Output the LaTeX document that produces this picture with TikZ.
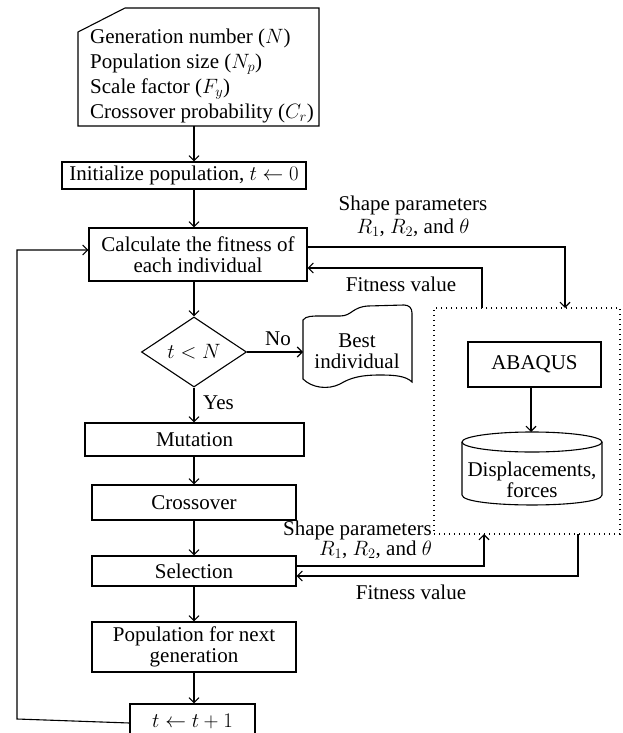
\documentclass[tikz,border=0pt]{standalone}
\usepackage{fontspec}
\setmainfont{Liberation Serif}
\usetikzlibrary{arrows.meta,shapes.geometric}
\begin{document}
\begin{tikzpicture}[x=1pt,y=-1pt,
  every node/.style={font=\fontsize{21}{21.5}\selectfont, inner sep=0pt},
  lw/.style={line width=1.1pt},
  box/.style={draw, lw, align=center},
  arr/.style={lw, -{Straight Barb[length=5pt,width=10pt]}},
  dotbox/.style={draw, line width=1.2pt, dash pattern=on 1.2pt off 3.8pt}]
\useasboundingbox (0,0) rectangle (622,733);
\coordinate (colx) at (194,0);

% parameters card
\draw[lw] (78,32) -- (125,8) -- (319,8) -- (319,126) -- (78,126) -- cycle;
\node[align=left, font=\fontsize{21}{25}\selectfont] (params) at (202,75.5)
  {Generation number ($N$)\\Population size ($N_p$)\\Scale factor ($F_y$)\\Crossover probability ($C_r$)};
\coordinate (pbot) at (194,126);

\node[box, minimum width=244pt, minimum height=27pt] (init) at (184,175.5) {Initialize population, $t\leftarrow 0$};
\node[box, minimum width=218pt, minimum height=53pt] (calc) at (198,254.5) {Calculate the fitness of\\each individual};
\node[draw, lw, diamond, aspect=1.5, minimum width=105pt, minimum height=70pt] (dec) at (194,352) {$t<N$};

% best individual (tape)
\draw[lw] (303,379) -- (303,320) .. controls (306,316) and (312,316) .. (320,316)
  -- (340,316) .. controls (352,316) and (352,307) .. (368,306)
  -- (404,305) .. controls (409,305) and (412,308) .. (412,313)
  -- (412,382) .. controls (406,376) and (395,375) .. (380,375)
  .. controls (360,375) and (350,378) .. (340,384)
  .. controls (328,390) and (312,388) .. (303,379) -- cycle;
\node[align=center] (best) at (357,351) {Best\\individual};
\coordinate (bestw) at (303,352);

\node[box, minimum width=219pt, minimum height=33pt] (mut) at (194.5,439.5) {Mutation};
\node[box, minimum width=204pt, minimum height=35pt] (cross) at (194,502.5) {Crossover};
\node[box, minimum width=204pt, minimum height=30pt] (sel) at (194,571) {Selection};
\node[box, minimum width=204pt, minimum height=50pt] (pop) at (194,647) {Population for next\\generation};
\node[box, minimum width=125pt, minimum height=34pt] (tt) at (192.5,721) {$t\leftarrow t+1$};

% simulation block
\node[dotbox, minimum width=186pt, minimum height=226pt] (sim) at (527,421) {};
\node[box, minimum width=133pt, minimum height=45pt] (abq) at (534.5,364.5) {ABAQUS};
\draw[lw] (462,442) -- (462,495) .. controls (462,508.3) and (602,508.3) .. (602,495) -- (602,442);
\draw[lw] (532,442) ellipse[x radius=70, y radius=10];
\node[align=center] (cyl) at (532,480) {Displacements,\\forces};
\coordinate (cyltop) at (531,432);

% main flow
\draw[arr] (pbot) -- (init.north -| colx);
\draw[arr] (init.south -| colx) -- (calc.north -| colx);
\draw[arr] (calc.south -| colx) -- (dec.north);
\draw[arr] (dec.east) -- (bestw);
\node[anchor=south] (no) at (278,346) {No};
\draw[arr] (dec.south) -- (mut.north -| colx);
\node[anchor=west] (yes) at (203,403) {Yes};
\draw[arr] (mut.south -| colx) -- (cross.north -| colx);
\draw[arr] (cross.south -| colx) -- (sel.north -| colx);
\draw[arr] (sel.south -| colx) -- (pop.north -| colx);
\draw[arr] (pop.south -| colx) -- (tt.north -| colx);
\draw[arr] ([yshift=-2pt]tt.west) -- (17,719) -- (17,250) -- ([yshift=4.5pt]calc.west);

% ABAQUS -> database
\draw[arr] (abq.south -| cyltop) -- (cyltop);

% top exchange
\draw[arr] ([yshift=7.5pt]calc.east) -- (565,247) -- (565,308);
\draw[arr] (482,308) -- (482,268) -- ([yshift=-13.5pt]calc.east);
\node[align=center, font=\fontsize{21}{23}\selectfont] (sp1) at (413,216.5) {Shape parameters\\$R_1$, $R_2$, and $\theta$};
\node (fv1) at (401,284) {Fitness value};

% bottom exchange
\draw[arr] ([yshift=5pt]sel.east) -- (484,566) -- (484,534);
\draw[arr] (578,534) -- (578,576) -- ([yshift=-5pt]sel.east);
\node[align=right, anchor=east, font=\fontsize{21}{19}\selectfont] (sp2) at (432,540) {Shape parameters\\$R_1$, $R_2$, and $\theta$};
\node (fv2) at (411,592) {Fitness value};
\end{tikzpicture}
\end{document}
